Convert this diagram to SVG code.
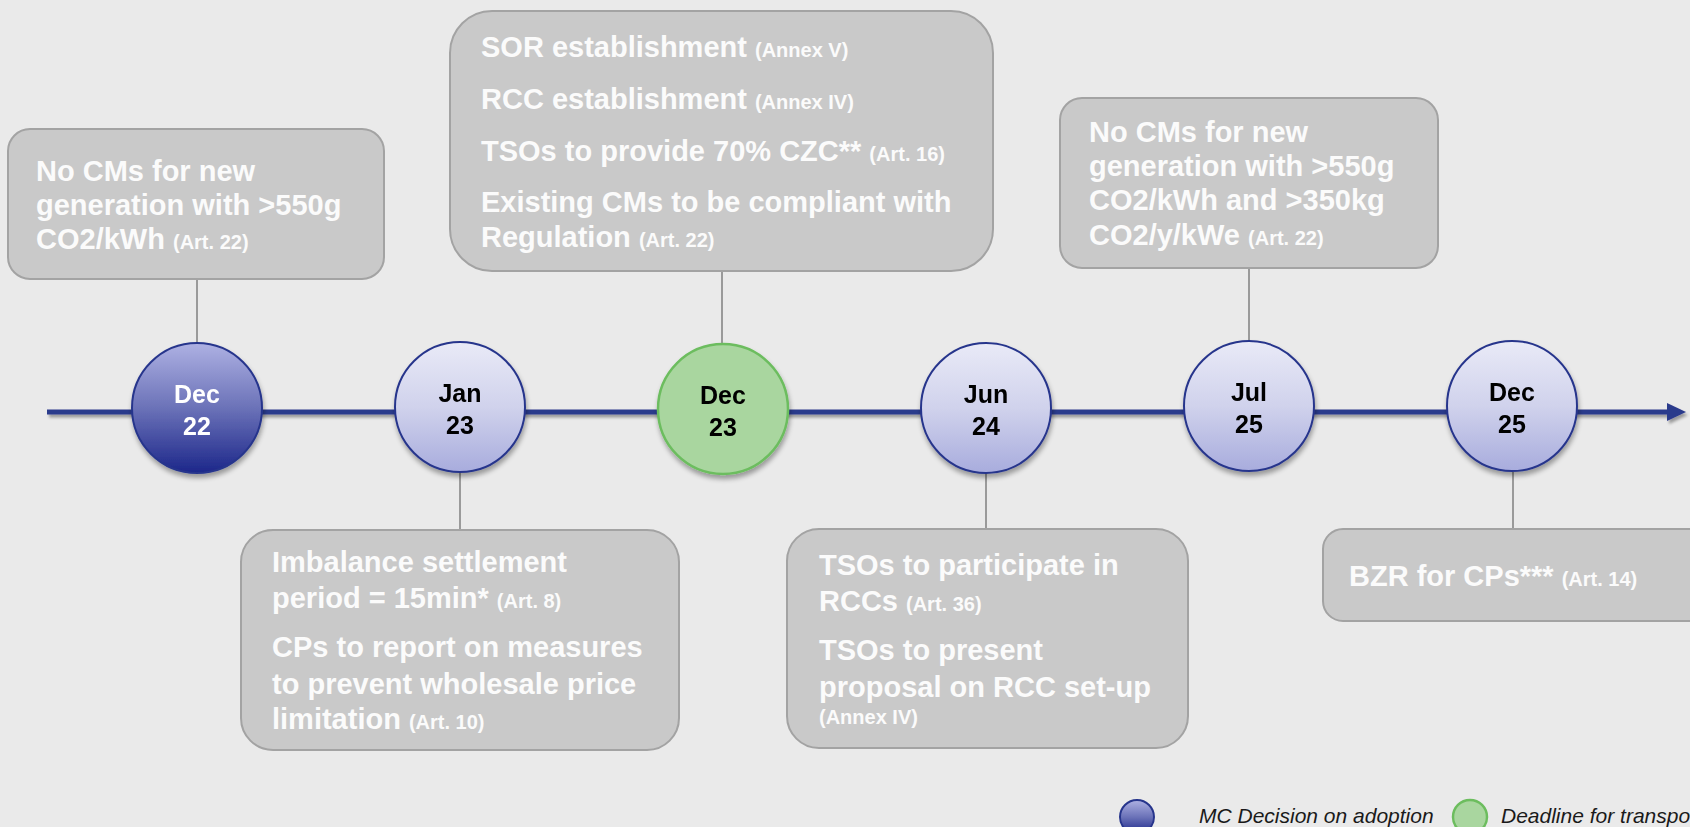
<svg xmlns="http://www.w3.org/2000/svg" width="1690" height="827" viewBox="0 0 1690 827">
  <defs>
    <linearGradient id="gLight" x1="0" y1="0" x2="0" y2="1">
      <stop offset="0" stop-color="#e9eaf7"/>
      <stop offset="0.5" stop-color="#d0d2ec"/>
      <stop offset="1" stop-color="#a8acdd"/>
    </linearGradient>
    <linearGradient id="gDark" x1="0" y1="0" x2="0" y2="1">
      <stop offset="0" stop-color="#aeb1e3"/>
      <stop offset="0.5" stop-color="#6b72b8"/>
      <stop offset="1" stop-color="#1c278a"/>
    </linearGradient>
    <filter id="shadow" x="-20%" y="-20%" width="140%" height="150%">
      <feGaussianBlur in="SourceAlpha" stdDeviation="2.5"/>
      <feOffset dx="1" dy="4" result="b"/>
      <feComponentTransfer><feFuncA type="linear" slope="0.35"/></feComponentTransfer>
      <feMerge><feMergeNode/><feMergeNode in="SourceGraphic"/></feMerge>
    </filter>
    <filter id="lshadow" x="-5%" y="-200%" width="110%" height="500%">
      <feGaussianBlur in="SourceAlpha" stdDeviation="1.5"/>
      <feOffset dx="2" dy="3" result="b"/>
      <feComponentTransfer><feFuncA type="linear" slope="0.35"/></feComponentTransfer>
      <feMerge><feMergeNode/><feMergeNode in="SourceGraphic"/></feMerge>
    </filter>
  </defs>
  <style>
    .box { fill: #c9c9c9; stroke: #a3a3a3; stroke-width: 2; }
    .bt { font-family: "Liberation Sans", Arial, sans-serif; font-weight: bold; font-size: 29px; fill: #fbfbfb; }
    .sm { font-size: 20px; }
    .conn { stroke: #7f7f7f; stroke-width: 1.5; fill: none; }
    .cl { fill: url(#gLight); stroke: #27358c; stroke-width: 2; }
    .cd { fill: url(#gDark); stroke: #27358c; stroke-width: 2; }
    .cg { fill: #a9d69f; stroke: #6cbd5e; stroke-width: 2.5; }
    .ct { font-family: "Liberation Sans", Arial, sans-serif; font-weight: bold; font-size: 25px; fill: #000; text-anchor: middle; }
    .lg { font-family: "Liberation Sans", Arial, sans-serif; font-style: italic; font-size: 21px; fill: #1a1a1a; }
  </style>
  <rect x="0" y="0" width="1690" height="827" fill="#eaeaea"/>

  <g id="connectors">
    <line class="conn" x1="197" y1="279" x2="197" y2="344"/>
    <line class="conn" x1="722" y1="271" x2="722" y2="344"/>
    <line class="conn" x1="1249" y1="268" x2="1249" y2="344"/>
    <line class="conn" x1="460" y1="472" x2="460" y2="530"/>
    <line class="conn" x1="986" y1="472" x2="986" y2="529"/>
    <line class="conn" x1="1513" y1="472" x2="1513" y2="529"/>
    <g id="timeline" filter="url(#lshadow)">
      <line x1="47" y1="412" x2="1672" y2="412" stroke="#2c3a8c" stroke-width="5"/>
      <polygon points="1667,403 1686,412 1667,421" fill="#2c3a8c"/>
    </g>
  </g>

  <g id="box-dec22-top">
    <rect class="box" x="8" y="129" width="376" height="150" rx="22"/>
    <text class="bt"><tspan x="36" y="181">No CMs for new</tspan><tspan x="36" y="215">generation with &gt;550g</tspan><tspan x="36" y="249">CO2/kWh <tspan class="sm">(Art. 22)</tspan></tspan></text>
  </g>

  <g id="box-dec23-top">
    <rect class="box" x="450" y="11" width="543" height="260" rx="42"/>
    <text class="bt">
      <tspan x="481" y="57">SOR establishment <tspan class="sm">(Annex V)</tspan></tspan>
      <tspan x="481" y="109">RCC establishment <tspan class="sm">(Annex IV)</tspan></tspan>
      <tspan x="481" y="161">TSOs to provide 70% CZC** <tspan class="sm">(Art. 16)</tspan></tspan>
      <tspan x="481" y="212">Existing CMs to be compliant with</tspan>
      <tspan x="481" y="247">Regulation <tspan class="sm">(Art. 22)</tspan></tspan>
    </text>
  </g>

  <g id="box-jul25-top">
    <rect class="box" x="1060" y="98" width="378" height="170" rx="22"/>
    <text class="bt">
      <tspan x="1089" y="142">No CMs for new</tspan>
      <tspan x="1089" y="176">generation with &gt;550g</tspan>
      <tspan x="1089" y="210">CO2/kWh and &gt;350kg</tspan>
      <tspan x="1089" y="245">CO2/y/kWe <tspan class="sm">(Art. 22)</tspan></tspan>
    </text>
  </g>

  <g id="box-jan23-bottom">
    <rect class="box" x="241" y="530" width="438" height="220" rx="32"/>
    <text class="bt">
      <tspan x="272" y="572">Imbalance settlement</tspan>
      <tspan x="272" y="608">period = 15min* <tspan class="sm">(Art. 8)</tspan></tspan>
      <tspan x="272" y="657">CPs to report on measures</tspan>
      <tspan x="272" y="694">to prevent wholesale price</tspan>
      <tspan x="272" y="729">limitation <tspan class="sm">(Art. 10)</tspan></tspan>
    </text>
  </g>

  <g id="box-jun24-bottom">
    <rect class="box" x="787" y="529" width="401" height="219" rx="32"/>
    <text class="bt">
      <tspan x="819" y="575">TSOs to participate in</tspan>
      <tspan x="819" y="611">RCCs <tspan class="sm">(Art. 36)</tspan></tspan>
      <tspan x="819" y="660">TSOs to present</tspan>
      <tspan x="819" y="697">proposal on RCC set-up</tspan>
      <tspan x="819" y="724" class="sm">(Annex IV)</tspan>
    </text>
  </g>

  <g id="box-dec25-bottom">
    <rect class="box" x="1323" y="529" width="400" height="92" rx="20"/>
    <text class="bt"><tspan x="1349" y="586">BZR for CPs*** <tspan class="sm">(Art. 14)</tspan></tspan></text>
  </g>

  <g id="node-dec22" filter="url(#shadow)">
    <circle class="cd" cx="197" cy="408" r="65"/>
    <text class="ct" style="fill:#fff"><tspan x="197" y="403">Dec</tspan><tspan x="197" y="435">22</tspan></text>
  </g>
  <g id="node-jan23" filter="url(#shadow)">
    <circle class="cl" cx="460" cy="407" r="65"/>
    <text class="ct"><tspan x="460" y="402">Jan</tspan><tspan x="460" y="434">23</tspan></text>
  </g>
  <g id="node-dec23" filter="url(#shadow)">
    <circle class="cg" cx="723" cy="409" r="65"/>
    <text class="ct"><tspan x="723" y="404">Dec</tspan><tspan x="723" y="436">23</tspan></text>
  </g>
  <g id="node-jun24" filter="url(#shadow)">
    <circle class="cl" cx="986" cy="408" r="65"/>
    <text class="ct"><tspan x="986" y="403">Jun</tspan><tspan x="986" y="435">24</tspan></text>
  </g>
  <g id="node-jul25" filter="url(#shadow)">
    <circle class="cl" cx="1249" cy="406" r="65"/>
    <text class="ct"><tspan x="1249" y="401">Jul</tspan><tspan x="1249" y="433">25</tspan></text>
  </g>
  <g id="node-dec25" filter="url(#shadow)">
    <circle class="cl" cx="1512" cy="406" r="65"/>
    <text class="ct"><tspan x="1512" y="401">Dec</tspan><tspan x="1512" y="433">25</tspan></text>
  </g>

  <g id="legend">
    <circle class="cd" cx="1137" cy="817" r="17"/>
    <text class="lg" x="1199" y="823">MC Decision on adoption</text>
    <circle class="cg" cx="1470" cy="817" r="17"/>
    <text class="lg" x="1501" y="823">Deadline for transpo</text>
  </g>
</svg>
